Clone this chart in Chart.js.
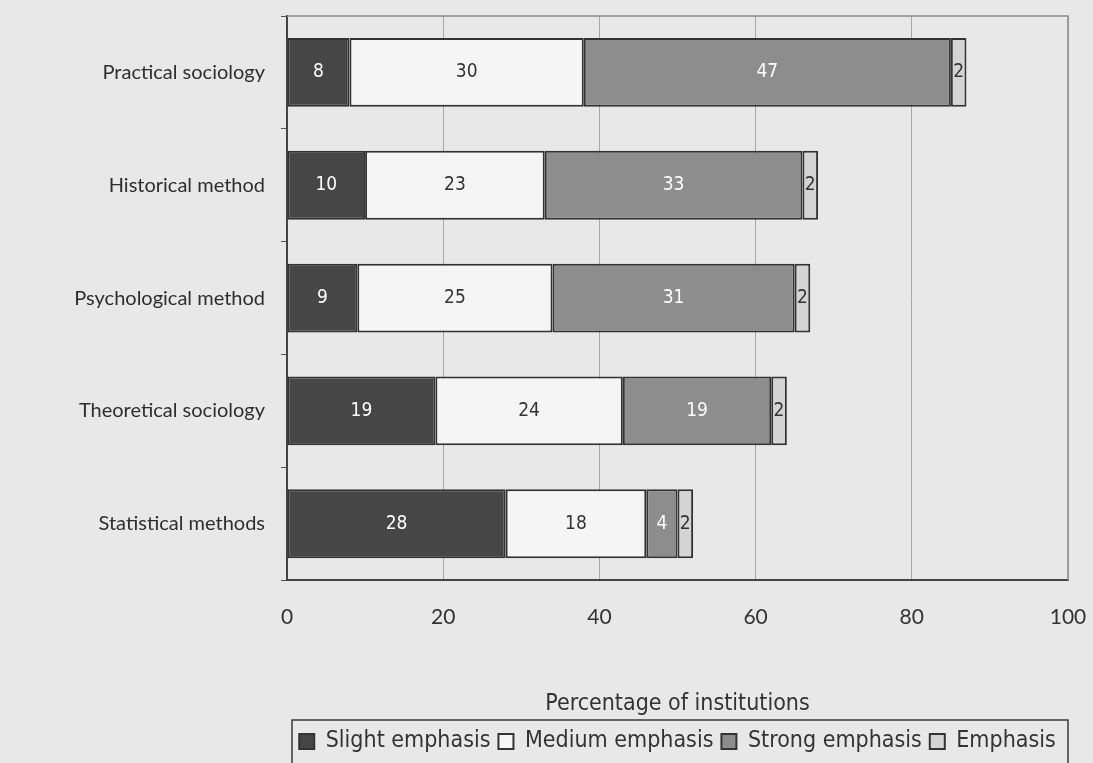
<!DOCTYPE html>
<html>
<head>
<meta charset="utf-8">
<script src="https://cdn.jsdelivr.net/npm/chart.js@4"></script>
<style>
  html, body { margin: 0; padding: 0; background: #e8e8e8; }
  #wrap { width: 1093px; height: 763px; }
</style>
</head>
<body>
<div id="wrap"><canvas id="chart-emphasis"></canvas></div>
<script>
var categorias = ["Practical sociology", "Historical method", "Psychological method", "Theoretical sociology", "Statistical methods"]
var slight = [8, 10, 9, 19, 28]
var medium = [30, 23, 25, 24, 18]
var strong = [47, 33, 31, 19, 4]
var emphasis = [2, 2, 2, 2, 2]
var x_ticks = [0, 20, 40, 60, 80, 100]

var COLORES = {
    "slight": "#464646",
    "medium": "#f5f5f5",
    "strong": "#8d8d8d",
    "emphasis": "#d4d4d4",
    "borde": "#333333",
    "papel": "#e8e8e8",
}
var NARROW = "'Liberation Sans Narrow', 'DejaVu Sans Condensed', sans-serif"

// fondo, marco del area y caja de la leyenda
var marco = {
    id: "marco",
    beforeDraw: function(chart){
        var ctx = chart.ctx
        ctx.save()
        ctx.fillStyle = COLORES["papel"]
        ctx.fillRect(0, 0, chart.width, chart.height)
        ctx.restore()
    },
    afterDraw: function(chart){
        var ctx = chart.ctx
        var a = chart.chartArea
        ctx.save()
        ctx.strokeStyle = "#8a8a8a"
        ctx.lineWidth = 1.5
        ctx.beginPath()
        ctx.moveTo(a.left, a.top)
        ctx.lineTo(a.right, a.top)
        ctx.lineTo(a.right, a.bottom)
        ctx.stroke()
        var lg = chart.legend
        ctx.strokeStyle = "#3a3a3a"
        ctx.lineWidth = 1.5
        ctx.strokeRect(a.left + 5, lg.top - 2, a.right - a.left - 5, 80)
        ctx.restore()
    },
    afterDatasetsDraw: function(chart){
        var ctx = chart.ctx
        ctx.save()
        ctx.font = "19px " + NARROW
        ctx.textAlign = "center"
        ctx.textBaseline = "middle"
        chart.data.datasets.forEach(function(ds, i){
            var meta = chart.getDatasetMeta(i)
            meta.data.forEach(function(bar, j){
                var cx = (bar.x + bar.base) / 2
                ctx.fillStyle = (i == 0 || i == 2) ? "#ffffff" : "#333333"
                ctx.fillText(String(ds.data[j]), cx, bar.y)
            })
        })
        ctx.restore()
    }
}

function init_chart(){
    var dataset = function(label, data, color){
        return {
            label: label,
            data: data,
            backgroundColor: color,
            borderColor: COLORES["borde"],
            borderWidth: 2,
            borderSkipped: false,
            barPercentage: 0.61,
            categoryPercentage: 1.0,
        }
    }

    new Chart(document.getElementById("chart-emphasis"), {
        type: "bar",
        data: {
            labels: categorias,
            datasets: [
                dataset("Slight emphasis", slight, COLORES["slight"]),
                dataset("Medium emphasis", medium, COLORES["medium"]),
                dataset("Strong emphasis", strong, COLORES["strong"]),
                dataset("Emphasis", emphasis, COLORES["emphasis"]),
            ],
        },
        options: {
            indexAxis: "y",
            responsive: true,
            maintainAspectRatio: false,
            animation: false,
            layout: { padding: { top: 16, right: 25, left: 0, bottom: 0 } },
            plugins: {
                tooltip: { enabled: false },
                legend: {
                    position: "bottom",
                    fullSize: false,
                    labels: {
                        font: { family: NARROW, size: 23 },
                        color: "#333",
                        boxWidth: 15,
                        boxHeight: 15,
                        padding: 8,
                        useBorderRadius: false,
                    },
                },
            },
            scales: {
                x: {
                    stacked: true,
                    min: 0,
                    max: 100,
                    afterBuildTicks: function(scale){
                        scale.ticks = x_ticks.map(function(v){ return { value: v } })
                    },
                    afterFit: function(scale){
                        scale.paddingLeft = 0
                        scale.paddingRight = 0
                    },
                    grid: { color: "#a8a8a8", lineWidth: 1, drawTicks: false },
                    border: { color: "#444", width: 2 },
                    ticks: {
                        padding: 24,
                        color: "#333",
                        font: { family: "Lato", size: 21 },
                    },
                    title: {
                        display: true,
                        text: "Percentage of institutions",
                        color: "#333",
                        font: { family: NARROW, size: 23 },
                        padding: { top: 37, bottom: 4 },
                    },
                },
                y: {
                    stacked: true,
                    afterFit: function(scale){
                        scale.width = 287
                        scale.paddingTop = 0
                        scale.paddingBottom = 0
                    },
                    grid: { drawOnChartArea: false, tickLength: 6, color: "#555" },
                    border: { color: "#444", width: 2 },
                    ticks: {
                        padding: 16,
                        color: "#2e2e2e",
                        font: { family: "Lato", size: 20 },
                    },
                },
            },
        },
        plugins: [marco],
    })
}
init_chart()
</script>
</body>
</html>
